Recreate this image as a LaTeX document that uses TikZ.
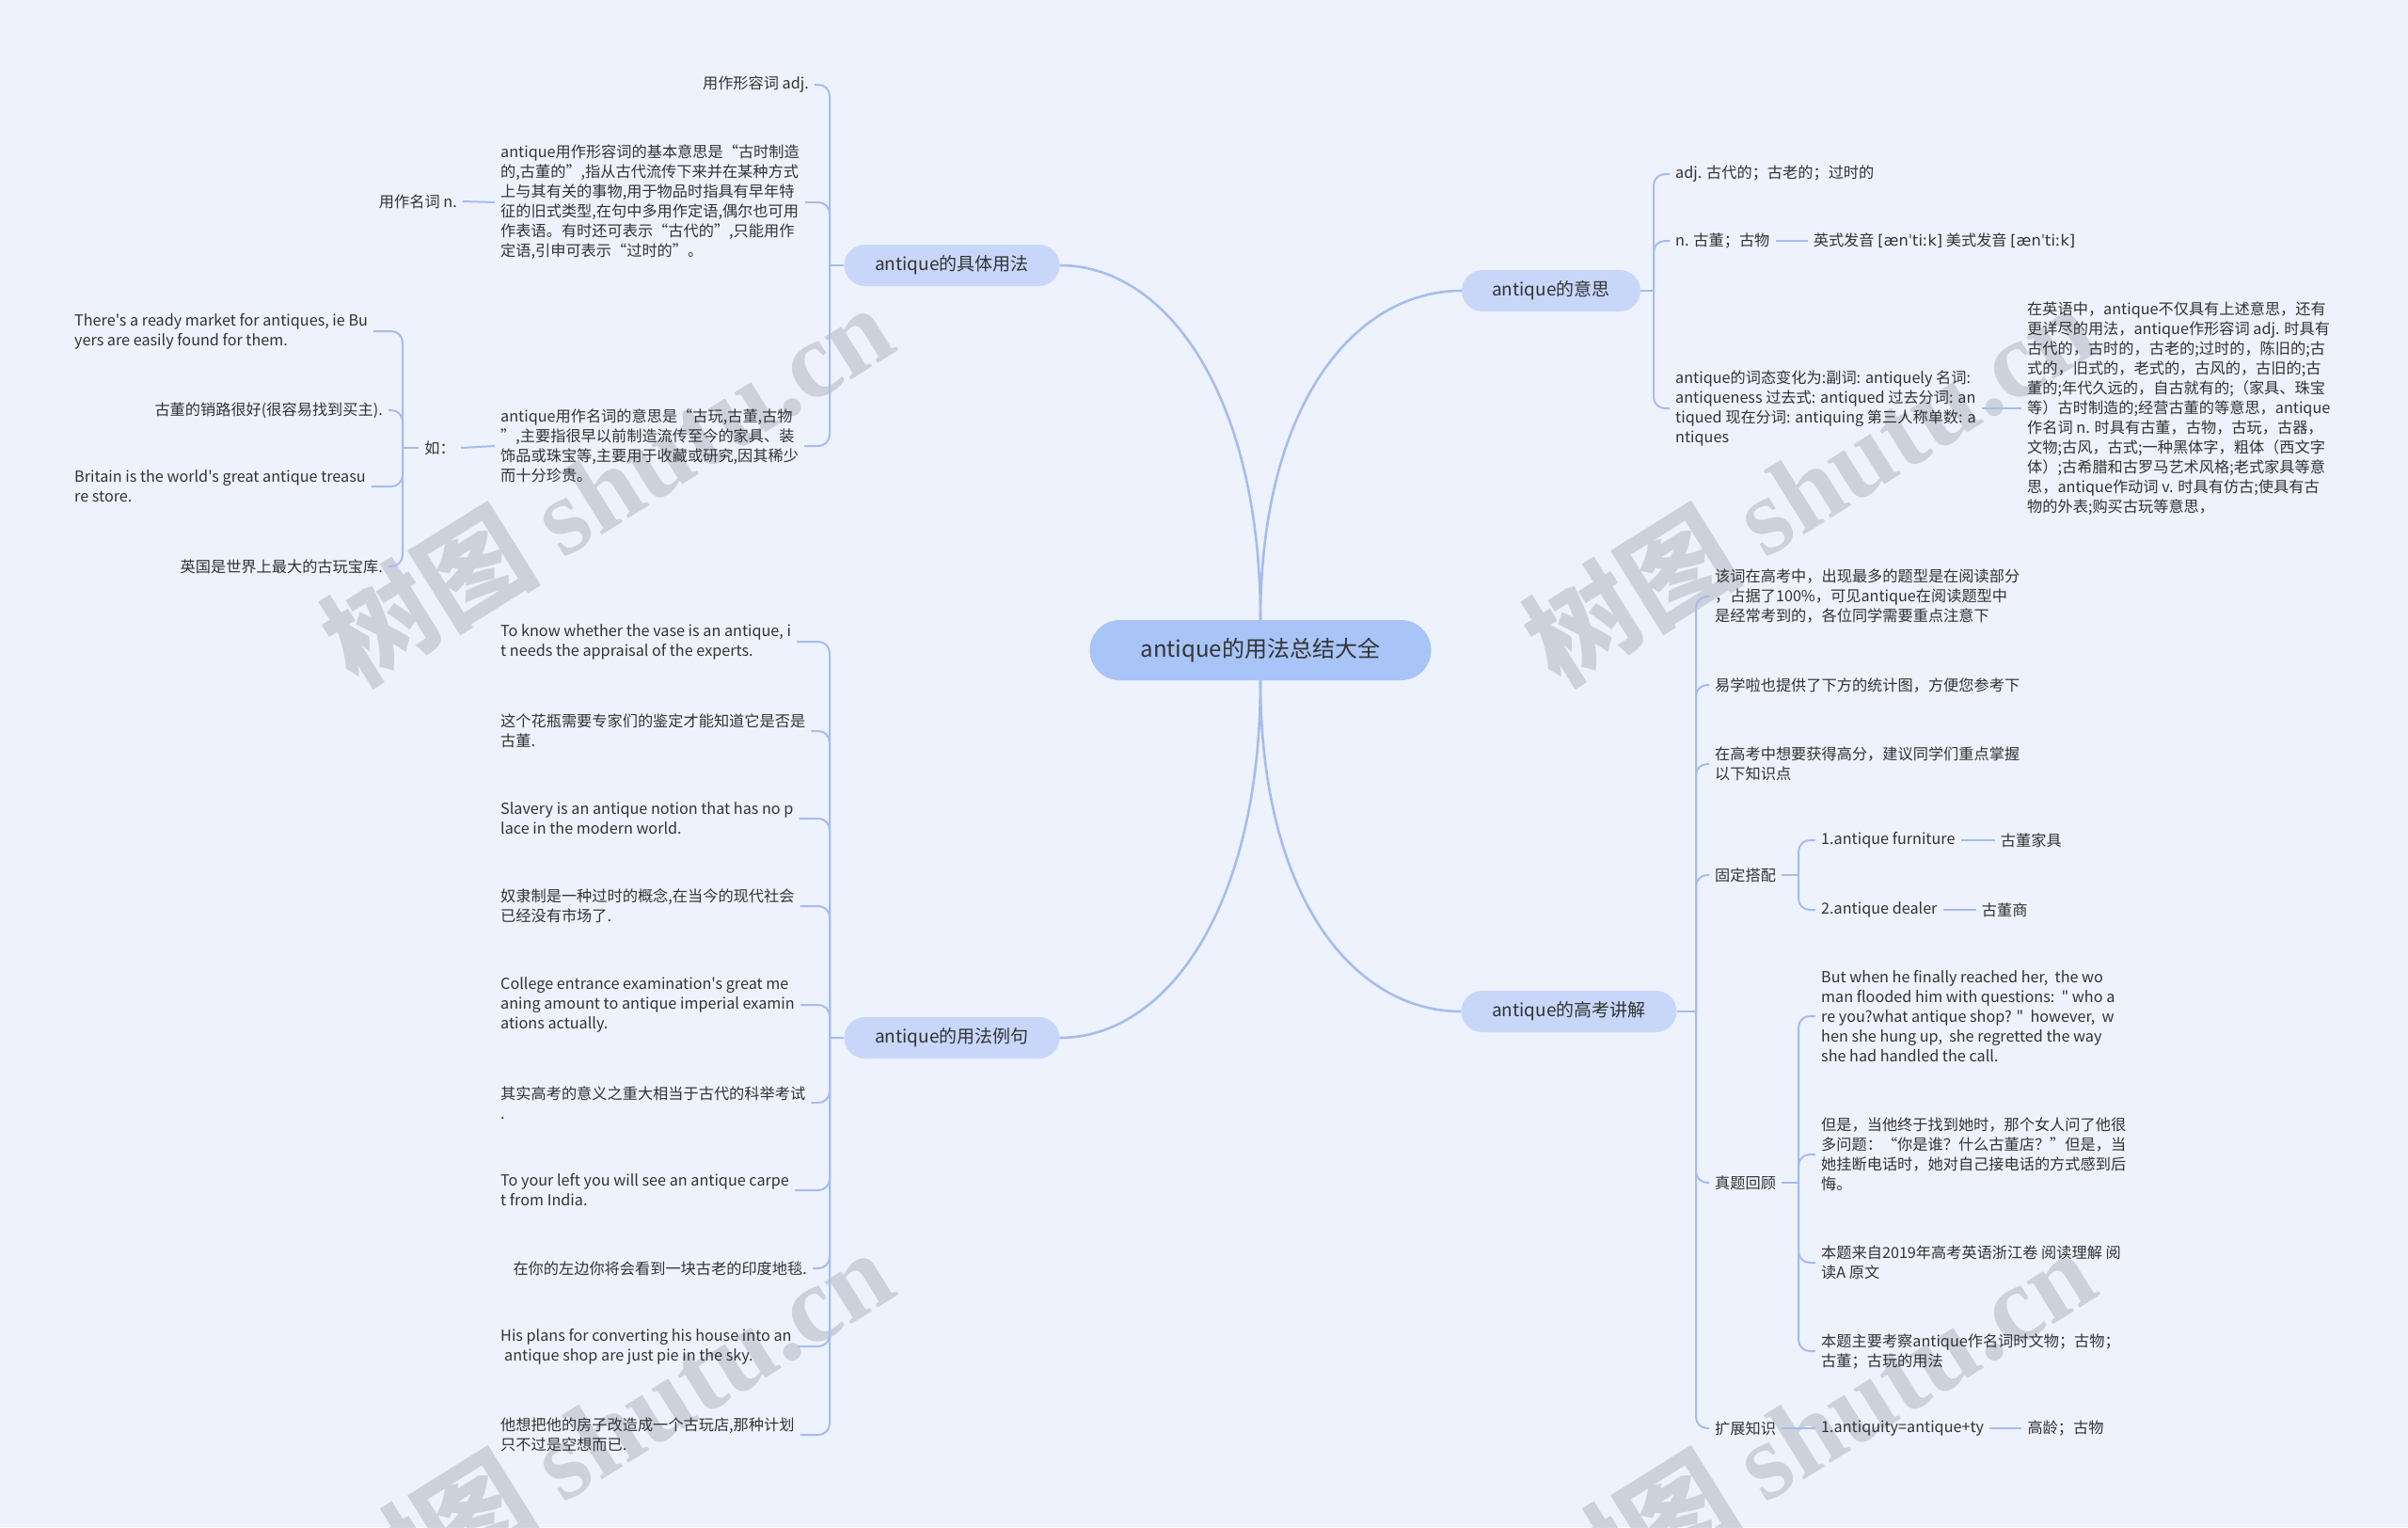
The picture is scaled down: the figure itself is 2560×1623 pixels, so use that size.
\documentclass[tikz,border=0pt]{standalone}
\usepackage{fontspec}
\setmainfont{Noto Sans CJK SC}[Ligatures=TeXOff]
\newfontfamily\ipafont{DejaVu Sans}
\newfontfamily\wmserif{Liberation Serif}
\definecolor{bg}{HTML}{EEF2FC}
\definecolor{lc}{HTML}{A5BDEE}
\definecolor{mainfill}{HTML}{A9C4F7}
\definecolor{brfill}{HTML}{C8D7F9}
\definecolor{tc}{HTML}{333333}
\definecolor{wmc}{HTML}{C2C7D2}
\tikzset{
  txt/.style={font=\fontsize{16.2}{21}\selectfont, text=tc, inner xsep=6pt, inner ysep=3pt, align=left},
  ln/.style={draw=lc, line width=2pt, rounded corners=12pt},
  mainln/.style={draw=lc, line width=2.6pt},
  branch/.style={fill=brfill, rounded corners=22pt, minimum height=44pt, font=\fontsize{19}{22}\selectfont, text=tc, inner sep=0pt},
  centernode/.style={fill=mainfill, rounded corners=32pt, minimum width=363pt, minimum height=64pt, font=\fontsize{24}{28}\selectfont, text=tc, inner sep=0pt},
  wm/.style={text=wmc, rotate=32, font=\fontsize{116}{126}\selectfont, opacity=0.75, inner sep=0pt},
}
\begin{document}
\begin{tikzpicture}[x=1pt,y=-1pt]
\useasboundingbox (0,0) rectangle (2560,1623);
\fill[bg] (0,0) rectangle (2560,1623);

% watermarks
\node[wm] (wm1) at (645,514) {\bfseries 树图 \wmserif shutu.cn};
\node[wm] (wm2) at (1923,514) {\bfseries 树图 \wmserif shutu.cn};
\node[wm] (wm3) at (645,1518) {\bfseries 树图 \wmserif shutu.cn};
\node[wm] (wm4) at (1923,1518) {\bfseries 树图 \wmserif shutu.cn};

% center and branches
\node[centernode] (c) at (1340,691) {antique的用法总结大全};
\node[branch, minimum width=229pt] (bA) at (1012,282) {antique的具体用法};
\node[branch, minimum width=229pt] (bB) at (1012,1103) {antique的用法例句};
\node[branch, minimum width=190pt] (bC) at (1649,309) {antique的意思};
\node[branch, minimum width=229pt] (bD) at (1668,1075) {antique的高考讲解};

\draw[mainln] (c.north) .. controls (1340,420) and (1240,282) .. (bA.east);
\draw[mainln] (c.north) .. controls (1340,430) and (1440,309) .. (bC.west);
\draw[mainln] (c.south) .. controls (1340,965) and (1240,1103) .. (bB.east);
\draw[mainln] (c.south) .. controls (1340,955) and (1440,1075) .. (bD.west);

% ---------- group A ----------
\coordinate (hA) at (882,282);
\node[txt,anchor=east] (a1) at (866,90) {用作形容词 adj.};
\node[txt,anchor=west] (a2) at (526,215) {antique用作形容词的基本意思是“古时制造\\的,古董的”,指从古代流传下来并在某种方式\\上与其有关的事物,用于物品时指具有早年特\\征的旧式类型,在句中多用作定语,偶尔也可用\\作表语。有时还可表示“古代的”,只能用作\\定语,引申可表示“过时的”。};
\node[txt,anchor=east] (a2n) at (492,214) {用作名词 n.};
\node[txt,anchor=west] (a3) at (526,474) {antique用作名词的意思是“古玩,古董,古物\\”,主要指很早以前制造流传至今的家具、装\\饰品或珠宝等,主要用于收藏或研究,因其稀少\\而十分珍贵。};
\node[txt,anchor=east] (ru) at (490,476) {如：};
\coordinate (hR) at (428,476);
\node[txt,anchor=west] (r1) at (73,352) {There's a ready market for antiques, ie Bu\\yers are easily found for them.};
\node[txt,anchor=east] (r2) at (413,436) {古董的销路很好(很容易找到买主).};
\node[txt,anchor=west] (r3) at (73,517) {Britain is the world's great antique treasu\\re store.};
\node[txt,anchor=east] (r4) at (413,602) {英国是世界上最大的古玩宝库.};

\draw[ln] (bA.west) -- (hA);
\draw[ln] (hA) |- (a1.east);
\draw[ln] (hA) |- (a2.east);
\draw[ln] (hA) |- (a3.east);
\draw[ln] (a2.west) -- (a2n.east);
\draw[ln] (a3.west) -- (ru.east);
\draw[ln] (ru.west) -- (hR);
\draw[ln] (hR) |- (r1.east);
\draw[ln] (hR) |- (r2.east);
\draw[ln] (hR) |- (r3.east);
\draw[ln] (hR) |- (r4.east);

% ---------- group B ----------
\coordinate (hB) at (882,1103);
\node[txt,anchor=west] (x1) at (526,682) {To know whether the vase is an antique, i\\t needs the appraisal of the experts.};
\node[txt,anchor=west] (x2) at (526,777) {这个花瓶需要专家们的鉴定才能知道它是否是\\古董.};
\node[txt,anchor=west] (x3) at (526,870) {Slavery is an antique notion that has no p\\lace in the modern world.};
\node[txt,anchor=west] (x4) at (526,963) {奴隶制是一种过时的概念,在当今的现代社会\\已经没有市场了.};
\node[txt,anchor=west] (x5) at (526,1068) {College entrance examination's great me\\aning amount to antique imperial examin\\ations actually.};
\node[txt,anchor=west] (x6) at (526,1172) {其实高考的意义之重大相当于古代的科举考试\\.};
\node[txt,anchor=west] (x7) at (526,1265) {To your left you will see an antique carpe\\t from India.};
\node[txt,anchor=east] (x8) at (864,1348) {在你的左边你将会看到一块古老的印度地毯.};
\node[txt,anchor=west] (x9) at (526,1431) {His plans for converting his house into an\\\hspace*{4pt}antique shop are just pie in the sky.};
\node[txt,anchor=west] (x10) at (526,1525) {他想把他的房子改造成一个古玩店,那种计划\\只不过是空想而已.};

\draw[ln] (bB.west) -- (hB);
\foreach \n in {x1,x2,x3,x4,x5,x6,x7,x8,x9,x10}
  \draw[ln] (hB) |- (\n.east);

% ---------- group C ----------
\coordinate (hC) at (1758,309);
\node[txt,anchor=west] (m1) at (1775,185) {adj. 古代的；古老的；过时的};
\node[txt,anchor=west] (m2) at (1775,256) {n. 古董；古物};
\node[txt,anchor=west] (m2p) at ([xshift=34pt]m2.east) {英式发音 {\ipafont [æn\char"02C8 ti\char"02D0 k]} 美式发音 {\ipafont [æn\char"02C8 ti\char"02D0 k]}};
\node[txt,anchor=west] (m3) at (1775,434) {antique的词态变化为:副词: antiquely 名词:\\antiqueness 过去式: antiqued 过去分词: an\\tiqued 现在分词: antiquing 第三人称单数: a\\ntiques};
\node[txt,anchor=west] (m3p) at (2149,434) {在英语中，antique不仅具有上述意思，还有\\更详尽的用法，antique作形容词 adj. 时具有\\古代的，古时的，古老的;过时的，陈旧的;古\\式的，旧式的，老式的，古风的，古旧的;古\\董的;年代久远的，自古就有的;（家具、珠宝\\等）古时制造的;经营古董的等意思，antique\\作名词 n. 时具有古董，古物，古玩，古器，\\文物;古风，古式;一种黑体字，粗体（西文字\\体）;古希腊和古罗马艺术风格;老式家具等意\\思，antique作动词 v. 时具有仿古;使具有古\\物的外表;购买古玩等意思，};

\draw[ln] (bC.east) -- (hC);
\draw[ln] (hC) |- (m1.west);
\draw[ln] (hC) |- (m2.west);
\draw[ln] (hC) |- (m3.west);
\draw[ln] (m2.east) -- (m2p.west);
\draw[ln] (m3.east) -- (m3p.west);

% ---------- group D ----------
\coordinate (hD) at (1803,1075);
\node[txt,anchor=west] (d1) at (1817,634) {该词在高考中，出现最多的题型是在阅读部分\\，占据了100\%，可见antique在阅读题型中\\是经常考到的，各位同学需要重点注意下};
\node[txt,anchor=west] (d2) at (1817,728) {易学啦也提供了下方的统计图，方便您参考下};
\node[txt,anchor=west] (d3) at (1817,812) {在高考中想要获得高分，建议同学们重点掌握\\以下知识点};
\node[txt,anchor=west] (d4) at (1817,930) {固定搭配};
\node[txt,anchor=west] (d5) at (1817,1257) {真题回顾};
\node[txt,anchor=west] (d6) at (1817,1518) {扩展知识};

\coordinate (hD4) at (1912,930);
\node[txt,anchor=west] (f1) at (1930,893) {1.antique furniture};
\node[txt,anchor=west] (f1b) at ([xshift=36pt]f1.east) {古董家具};
\node[txt,anchor=west] (f2) at (1930,967) {2.antique dealer};
\node[txt,anchor=west] (f2b) at ([xshift=35pt]f2.east) {古董商};

\coordinate (hD5) at (1912,1257);
\node[txt,anchor=west] (e1) at (1930,1080) {But when he finally reached her,~~the wo\\man flooded him with questions:~~" who a\\re you?what antique shop? "~~however,~~w\\hen she hung up,~~she regretted the way\\she had handled the call.};
\node[txt,anchor=west] (e2) at (1930,1227) {但是，当他终于找到她时，那个女人问了他很\\多问题：“你是谁？什么古董店？”但是，当\\她挂断电话时，她对自己接电话的方式感到后\\悔。};
\node[txt,anchor=west] (e3) at (1930,1342) {本题来自2019年高考英语浙江卷 阅读理解 阅\\读A 原文};
\node[txt,anchor=west] (e4) at (1930,1436) {本题主要考察antique作名词时文物；古物；\\古董；古玩的用法};

\node[txt,anchor=west] (g1) at (1930,1518) {1.antiquity=antique+ty};
\node[txt,anchor=west] (g2) at ([xshift=34pt]g1.east) {高龄；古物};

\draw[ln] (bD.east) -- (hD);
\foreach \n in {d1,d2,d3,d4,d5,d6}
  \draw[ln] (hD) |- (\n.west);
\draw[ln] (d4.east) -- (hD4);
\draw[ln] (hD4) |- (f1.west);
\draw[ln] (hD4) |- (f2.west);
\draw[ln] (f1.east) -- (f1b.west);
\draw[ln] (f2.east) -- (f2b.west);
\draw[ln] (d5.east) -- (hD5);
\foreach \n in {e1,e2,e3,e4}
  \draw[ln] (hD5) |- (\n.west);
\draw[ln] (d6.east) -- (g1.west);
\draw[ln] (g1.east) -- (g2.west);
\end{tikzpicture}
\end{document}
